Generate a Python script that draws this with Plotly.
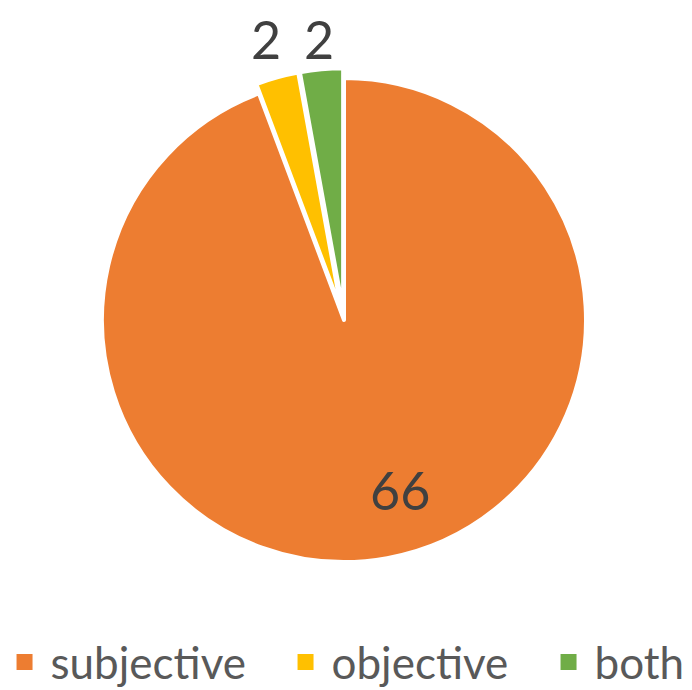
import math
import plotly.graph_objects as go

categories = ["subjective", "objective", "both"]
values = [66, 2, 2]
colors = ["#ED7D31", "#FFC000", "#70AD47"]
pulls = [0, 0.04, 0.04]
legend_widths = [224, 206, None]

W, H = 692, 690
CX, CY, R = 336, 312, 242          # pie centre / radius in pixels
PR = R * (1 + max(pulls))          # domain half-size incl. pull
OUT_LABEL_Y = 31                   # pixel row of the outside labels
FONT = "Lato, Open Sans, sans-serif"

fig = go.Figure()
fig.add_trace(go.Pie(
    labels=categories,
    values=values,
    sort=False,
    direction="clockwise",
    rotation=0,
    pull=pulls,
    marker=dict(colors=colors, line=dict(color="white", width=4)),
    textinfo="none",
    showlegend=False,
    domain=dict(x=[(CX - PR) / W, (CX + PR) / W],
                y=[1 - (CY + PR) / H, 1 - (CY - PR) / H]),
    hoverinfo="label+value",
))

# legend entries (square markers)
for name, col, lw in zip(categories, colors, legend_widths):
    tr = dict(
        x=[None], y=[None], mode="markers", name=name,
        marker=dict(symbol="square", size=18, color=col),
        showlegend=True, hoverinfo="skip",
    )
    if lw:
        tr["legendwidth"] = lw
    fig.add_trace(go.Scatter(**tr))

# data labels placed along each slice's mid angle (computed from values)
total = sum(values)
cum = 0
annotations = []
for i, v in enumerate(values):
    mid = (cum + v / 2) / total * 2 * math.pi
    cum += v
    if i == 0:
        ang = mid - 0.14
        rr = 0.74 * R
    else:
        ang = mid
        rr = (CY - OUT_LABEL_Y) / math.cos(ang)
    px = CX + rr * math.sin(ang)
    py = CY - rr * math.cos(ang)
    annotations.append(dict(
        x=px / W, y=1 - py / H, xref="paper", yref="paper",
        text=str(v), showarrow=False,
        xanchor="center", yanchor="middle",
        font=dict(family=FONT, size=52, color="#404040"),
    ))

fig.update_layout(
    width=W, height=H,
    margin=dict(l=0, r=0, t=0, b=0, autoexpand=False),
    paper_bgcolor="white",
    plot_bgcolor="white",
    xaxis=dict(visible=False),
    yaxis=dict(visible=False),
    annotations=annotations,
    legend=dict(
        orientation="h",
        x=0.4856, xanchor="center", xref="container",
        y=0.0, yanchor="bottom", yref="container",
        font=dict(family=FONT, size=44, color="#595959"),
        itemwidth=42,
        bgcolor="rgba(0,0,0,0)",
    ),
    font=dict(family=FONT),
)

fig.write_html("out.html")
